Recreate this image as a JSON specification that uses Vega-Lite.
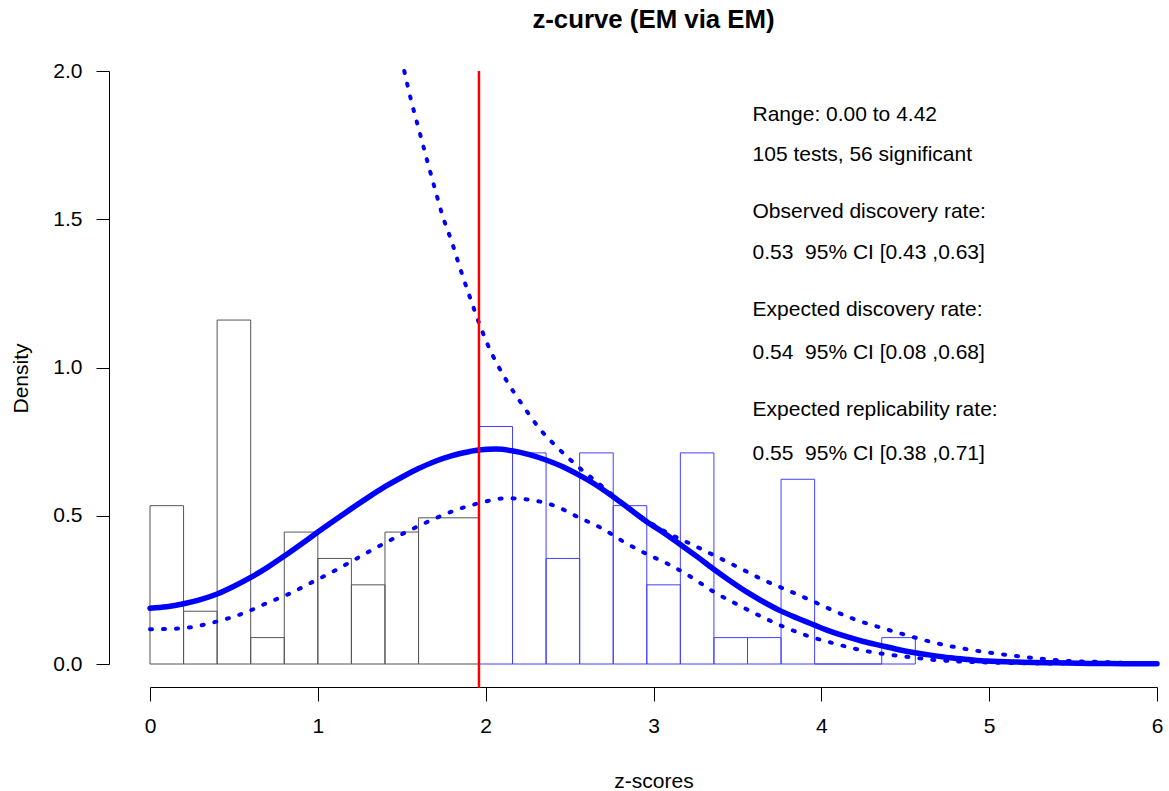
{
  "$schema": "https://vega.github.io/schema/vega-lite/v6.json",
  "width": 1007,
  "height": 593,
  "autosize": {"type": "none"},
  "padding": {"left": 150, "top": 71, "right": 12, "bottom": 127},
  "background": "white",
  "title": {"text": "z-curve (EM via EM)", "fontSize": 25.8, "fontWeight": "bold", "font": "Liberation Sans", "anchor": "middle", "frame": "group", "offset": 26, "color": "black"},
  "config": {
    "view": {"stroke": null},
    "axis": {"grid": false, "domainColor": "black", "tickColor": "black", "labelColor": "black", "titleColor": "black", "labelFont": "Liberation Sans", "titleFont": "Liberation Sans", "labelFontSize": 21, "titleFontSize": 21, "titleFontWeight": "normal", "labelFlush": false, "labelOverlap": false, "domainWidth": 1, "tickWidth": 1},
    "axisX": {"offset": 23, "tickSize": 14, "labelPadding": 14, "titleBaseline": "alphabetic", "titleY": 100},
    "axisY": {"offset": 41, "tickSize": 13, "labelPadding": 14, "titleBaseline": "alphabetic", "titleAngle": -90, "titleX": -81.5, "titleY": 307}
  },
  "datasets": {
    "hist": [
      {"x0": 0.0, "x1": 0.2, "d": 0.534, "s": "ns"},
      {"x0": 0.2, "x1": 0.4, "d": 0.178, "s": "ns"},
      {"x0": 0.4, "x1": 0.6, "d": 1.16, "s": "ns"},
      {"x0": 0.6, "x1": 0.8, "d": 0.089, "s": "ns"},
      {"x0": 0.8, "x1": 1.0, "d": 0.445, "s": "ns"},
      {"x0": 1.0, "x1": 1.2, "d": 0.356, "s": "ns"},
      {"x0": 1.2, "x1": 1.4, "d": 0.267, "s": "ns"},
      {"x0": 1.4, "x1": 1.6, "d": 0.445, "s": "ns"},
      {"x0": 1.6, "x1": 1.96, "d": 0.493, "s": "ns"},
      {"x0": 1.96, "x1": 2.16, "d": 0.801, "s": "sig"},
      {"x0": 2.16, "x1": 2.36, "d": 0.712, "s": "sig"},
      {"x0": 2.36, "x1": 2.56, "d": 0.356, "s": "sig"},
      {"x0": 2.56, "x1": 2.76, "d": 0.712, "s": "sig"},
      {"x0": 2.76, "x1": 2.96, "d": 0.534, "s": "sig"},
      {"x0": 2.96, "x1": 3.16, "d": 0.267, "s": "sig"},
      {"x0": 3.16, "x1": 3.36, "d": 0.712, "s": "sig"},
      {"x0": 3.36, "x1": 3.56, "d": 0.089, "s": "sig"},
      {"x0": 3.56, "x1": 3.76, "d": 0.089, "s": "sig"},
      {"x0": 3.76, "x1": 3.96, "d": 0.623, "s": "sig"},
      {"x0": 3.96, "x1": 4.16, "d": 0.0, "s": "sig"},
      {"x0": 4.16, "x1": 4.36, "d": 0.0, "s": "sig"},
      {"x0": 4.36, "x1": 4.56, "d": 0.089, "s": "sig"}
    ],
    "fit": [
      {"x": 0.0, "y": 0.188}, {"x": 0.1, "y": 0.193}, {"x": 0.2, "y": 0.203}, {"x": 0.3, "y": 0.217},
      {"x": 0.4, "y": 0.236}, {"x": 0.5, "y": 0.262}, {"x": 0.6, "y": 0.292}, {"x": 0.7, "y": 0.326},
      {"x": 0.8, "y": 0.364}, {"x": 0.9, "y": 0.404}, {"x": 1.0, "y": 0.445}, {"x": 1.1, "y": 0.485},
      {"x": 1.2, "y": 0.524}, {"x": 1.3, "y": 0.562}, {"x": 1.4, "y": 0.598}, {"x": 1.5, "y": 0.63},
      {"x": 1.6, "y": 0.659}, {"x": 1.7, "y": 0.684}, {"x": 1.8, "y": 0.703}, {"x": 1.9, "y": 0.716},
      {"x": 1.957, "y": 0.722}, {"x": 2.066, "y": 0.725}, {"x": 2.157, "y": 0.719}, {"x": 2.26, "y": 0.706},
      {"x": 2.36, "y": 0.688}, {"x": 2.46, "y": 0.665}, {"x": 2.56, "y": 0.636}, {"x": 2.66, "y": 0.603},
      {"x": 2.76, "y": 0.564}, {"x": 2.86, "y": 0.522}, {"x": 2.96, "y": 0.48}, {"x": 3.06, "y": 0.443},
      {"x": 3.16, "y": 0.403}, {"x": 3.26, "y": 0.362}, {"x": 3.353, "y": 0.322}, {"x": 3.455, "y": 0.281},
      {"x": 3.555, "y": 0.243}, {"x": 3.654, "y": 0.21}, {"x": 3.754, "y": 0.18}, {"x": 3.855, "y": 0.155},
      {"x": 3.956, "y": 0.132}, {"x": 4.05, "y": 0.111}, {"x": 4.151, "y": 0.092}, {"x": 4.25, "y": 0.076},
      {"x": 4.356, "y": 0.062}, {"x": 4.456, "y": 0.049}, {"x": 4.558, "y": 0.038}, {"x": 4.66, "y": 0.029},
      {"x": 4.767, "y": 0.021}, {"x": 4.88, "y": 0.015}, {"x": 4.985, "y": 0.01}, {"x": 5.2, "y": 0.006},
      {"x": 5.4, "y": 0.004}, {"x": 5.6, "y": 0.002}, {"x": 5.8, "y": 0.001}, {"x": 6.0, "y": 0.0005}
    ],
    "upper": [
      {"x": 1.515, "y": 2.0}, {"x": 1.559, "y": 1.894}, {"x": 1.603, "y": 1.801}, {"x": 1.649, "y": 1.703},
      {"x": 1.694, "y": 1.61}, {"x": 1.742, "y": 1.514}, {"x": 1.799, "y": 1.422}, {"x": 1.851, "y": 1.329},
      {"x": 1.903, "y": 1.242}, {"x": 1.958, "y": 1.154}, {"x": 2.02, "y": 1.067}, {"x": 2.12, "y": 0.96},
      {"x": 2.224, "y": 0.87}, {"x": 2.324, "y": 0.792}, {"x": 2.433, "y": 0.727}, {"x": 2.562, "y": 0.66},
      {"x": 2.701, "y": 0.596}, {"x": 2.84, "y": 0.531}, {"x": 2.97, "y": 0.48}, {"x": 3.098, "y": 0.438},
      {"x": 3.237, "y": 0.401}, {"x": 3.377, "y": 0.362}, {"x": 3.516, "y": 0.323}, {"x": 3.645, "y": 0.286},
      {"x": 3.794, "y": 0.25}, {"x": 3.933, "y": 0.216}, {"x": 4.072, "y": 0.18}, {"x": 4.211, "y": 0.148},
      {"x": 4.37, "y": 0.12}, {"x": 4.528, "y": 0.094}, {"x": 4.687, "y": 0.07}, {"x": 4.846, "y": 0.052},
      {"x": 5.005, "y": 0.038}, {"x": 5.164, "y": 0.027}, {"x": 5.323, "y": 0.017}, {"x": 5.482, "y": 0.01},
      {"x": 5.649, "y": 0.007}, {"x": 5.8, "y": 0.004}, {"x": 6.0, "y": 0.002}
    ],
    "lower": [
      {"x": 0.0, "y": 0.117}, {"x": 0.179, "y": 0.12}, {"x": 0.397, "y": 0.143}, {"x": 0.556, "y": 0.171},
      {"x": 0.695, "y": 0.205}, {"x": 0.834, "y": 0.238}, {"x": 0.973, "y": 0.278}, {"x": 1.112, "y": 0.318},
      {"x": 1.251, "y": 0.362}, {"x": 1.39, "y": 0.405}, {"x": 1.53, "y": 0.446}, {"x": 1.668, "y": 0.483},
      {"x": 1.807, "y": 0.516}, {"x": 1.957, "y": 0.542}, {"x": 2.125, "y": 0.559}, {"x": 2.274, "y": 0.553},
      {"x": 2.423, "y": 0.531}, {"x": 2.552, "y": 0.495}, {"x": 2.691, "y": 0.458}, {"x": 2.82, "y": 0.413},
      {"x": 2.96, "y": 0.371}, {"x": 3.098, "y": 0.334}, {"x": 3.228, "y": 0.292}, {"x": 3.357, "y": 0.244},
      {"x": 3.496, "y": 0.202}, {"x": 3.635, "y": 0.162}, {"x": 3.774, "y": 0.126}, {"x": 3.923, "y": 0.094},
      {"x": 4.072, "y": 0.07}, {"x": 4.211, "y": 0.05}, {"x": 4.37, "y": 0.034}, {"x": 4.528, "y": 0.023},
      {"x": 4.687, "y": 0.013}, {"x": 4.85, "y": 0.008}, {"x": 5.0, "y": 0.005}, {"x": 5.3, "y": 0.002},
      {"x": 5.6, "y": 0.001}, {"x": 6.0, "y": 0.0}
    ],
    "crit": [{"z": 1.96, "top": 2.0, "bottom": -0.08}],
    "notes": [
      {"tx": 3.59, "ty": 1.852, "label": "Range: 0.00 to 4.42"},
      {"tx": 3.59, "ty": 1.717, "label": "105 tests, 56 significant"},
      {"tx": 3.59, "ty": 1.525, "label": "Observed discovery rate:"},
      {"tx": 3.59, "ty": 1.385, "label": "0.53\u00a0 95% CI [0.43 ,0.63]"},
      {"tx": 3.59, "ty": 1.194, "label": "Expected discovery rate:"},
      {"tx": 3.59, "ty": 1.048, "label": "0.54\u00a0 95% CI [0.08 ,0.68]"},
      {"tx": 3.59, "ty": 0.855, "label": "Expected replicability rate:"},
      {"tx": 3.59, "ty": 0.708, "label": "0.55\u00a0 95% CI [0.38 ,0.71]"}
    ]
  },
  "layer": [
    {
      "data": {"name": "hist"},
      "mark": {"type": "rect", "fill": "transparent", "strokeWidth": 1},
      "encoding": {
        "x": {"field": "x0", "type": "quantitative", "scale": {"domain": [0, 6], "nice": false, "zero": false}, "title": "z-scores", "axis": {"values": [0, 1, 2, 3, 4, 5, 6], "format": "d"}},
        "x2": {"field": "x1"},
        "y": {"field": "d", "type": "quantitative", "scale": {"domain": [0, 2], "nice": false, "zero": false}, "title": "Density", "axis": {"values": [0, 0.5, 1, 1.5, 2], "format": ".1f"}},
        "y2": {"datum": 0},
        "stroke": {"field": "s", "type": "nominal", "scale": {"domain": ["ns", "sig"], "range": ["#555555", "#4040ff"]}, "legend": null}
      }
    },
    {
      "data": {"name": "fit"},
      "mark": {"type": "line", "color": "#0000ff", "strokeWidth": 5.5, "strokeCap": "round", "interpolate": "monotone"},
      "encoding": {
        "x": {"field": "x", "type": "quantitative", "title": "z-scores"},
        "y": {"field": "y", "type": "quantitative", "title": "Density"}
      }
    },
    {
      "data": {"name": "lower"},
      "mark": {"type": "line", "color": "#0000ff", "strokeWidth": 4, "strokeDash": [2, 11], "strokeCap": "round", "interpolate": "monotone"},
      "encoding": {
        "x": {"field": "x", "type": "quantitative", "title": "z-scores"},
        "y": {"field": "y", "type": "quantitative", "title": "Density"}
      }
    },
    {
      "data": {"name": "upper"},
      "mark": {"type": "line", "color": "#0000ff", "strokeWidth": 4, "strokeDash": [2, 11], "strokeCap": "round", "interpolate": "monotone"},
      "encoding": {
        "x": {"field": "x", "type": "quantitative", "title": "z-scores"},
        "y": {"field": "y", "type": "quantitative", "title": "Density"}
      }
    },
    {
      "data": {"name": "crit"},
      "mark": {"type": "rule", "color": "#ff0000", "strokeWidth": 2.5},
      "encoding": {
        "x": {"field": "z", "type": "quantitative", "title": "z-scores"},
        "y": {"field": "top", "type": "quantitative", "title": "Density"},
        "y2": {"field": "bottom"}
      }
    },
    {
      "data": {"name": "notes"},
      "mark": {"type": "text", "align": "left", "baseline": "middle", "fontSize": 21, "font": "Liberation Sans", "color": "black"},
      "encoding": {
        "x": {"field": "tx", "type": "quantitative", "title": "z-scores"},
        "y": {"field": "ty", "type": "quantitative", "title": "Density"},
        "text": {"field": "label", "type": "nominal"}
      }
    }
  ]
}
